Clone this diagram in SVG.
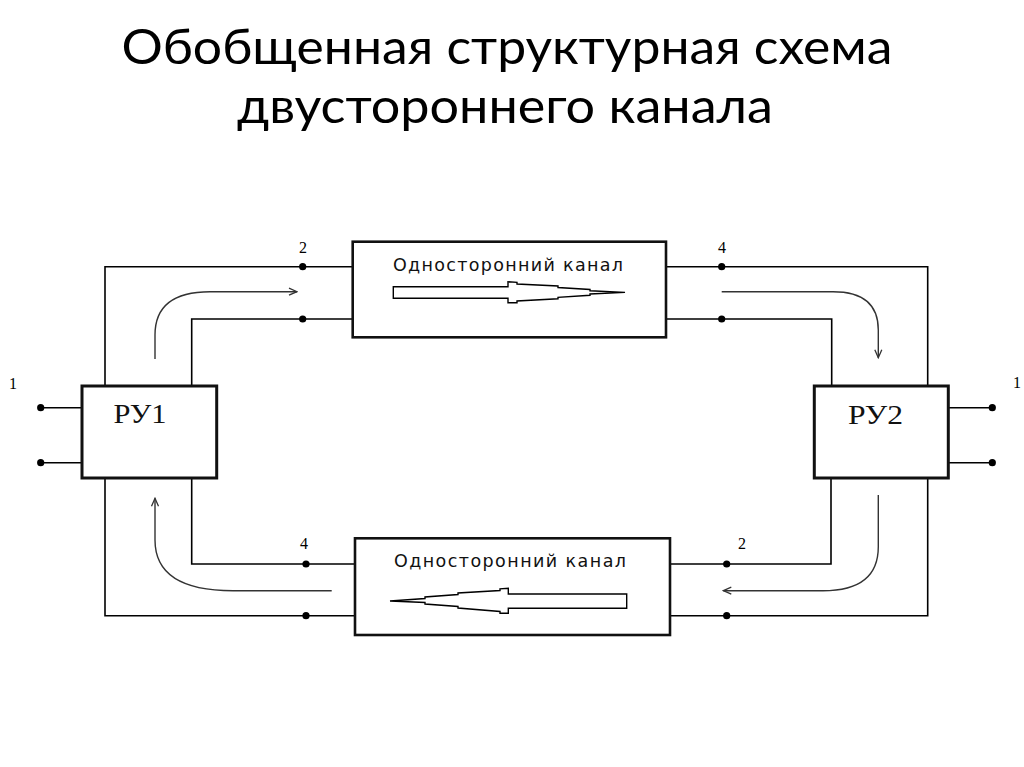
<svg xmlns="http://www.w3.org/2000/svg" width="1024" height="767" viewBox="0 0 1024 767">
<defs>
<style>
.wire{fill:none;stroke:#000;stroke-width:1.6}
.box{fill:#fff;stroke:#111;stroke-width:3}
.ch{fill:#fff;stroke:#111;stroke-width:2.6}
.dot{fill:#000}
.flow{fill:none;stroke:#333;stroke-width:1.4;marker-end:url(#ah)}
.hol{fill:#fff;stroke:#000;stroke-width:1.4}
.num{font-family:"Liberation Serif",serif;font-size:16px;fill:#000;text-anchor:middle}
.ru{font-family:"Liberation Serif",serif;font-size:28px;fill:#111;text-anchor:middle}
.chl{font-family:"DejaVu Sans","Liberation Sans",sans-serif;font-size:17.5px;fill:#111;text-anchor:middle}
.title{font-family:Lato,"Open Sans",sans-serif;font-size:48px;fill:#000;text-anchor:middle}
</style>
<marker id="ah" viewBox="0 0 10 10" refX="9" refY="5" markerWidth="10" markerHeight="10" markerUnits="userSpaceOnUse" orient="auto">
<polyline points="1,1.5 9,5 1,8.5" fill="none" stroke="#333" stroke-width="1.3"/>
</marker>
</defs>
<rect width="1024" height="767" fill="#fff"/>
<g id="title">
<text class="title" x="507" y="64" textLength="771" lengthAdjust="spacingAndGlyphs">Обобщенная структурная схема</text>
<text class="title" x="505" y="122.5" textLength="536" lengthAdjust="spacingAndGlyphs">двустороннего канала</text>
</g>
<g id="connectors">
<polyline class="wire" points="352.7,266.7 105,266.7 105,386"/>
<polyline class="wire" points="352.7,319 191.7,319 191.7,386"/>
<polyline class="wire" points="665,266.7 927.7,266.7 927.7,386"/>
<polyline class="wire" points="665,319 831.7,319 831.7,386"/>
<polyline class="wire" points="105,478 105,615.7 355,615.7"/>
<polyline class="wire" points="191.7,478 191.7,564 355,564"/>
<polyline class="wire" points="927.7,478 927.7,615.7 668,615.7"/>
<polyline class="wire" points="831,478 831,564 668,564"/>
<line class="wire" x1="40.7" y1="407.7" x2="82" y2="407.7"/>
<line class="wire" x1="40.7" y1="462.7" x2="82" y2="462.7"/>
<line class="wire" x1="948" y1="407.7" x2="992.3" y2="407.7"/>
<line class="wire" x1="948" y1="462.7" x2="992.3" y2="462.7"/>
<path class="flow" d="M155,359 L155,335 Q155,291.7 210,291.7 L297,291.7"/>
<path class="flow" d="M721.7,291.7 L833,291.7 Q878.3,291.7 878.3,330 L878.3,357.7"/>
<path class="flow" d="M878.3,495 L878.3,546.7 Q878.3,590.7 823,590.7 L723.3,590.7"/>
<path class="flow" d="M331.7,590.7 L233,590.7 Q155,590.7 155,540 L155,498.3"/>
</g>
<g id="terminals">
<circle class="dot" cx="40.7" cy="407.7" r="3.6"/>
<circle class="dot" cx="40.7" cy="462.7" r="3.6"/>
<circle class="dot" cx="992.3" cy="407.7" r="3.6"/>
<circle class="dot" cx="992.3" cy="462.7" r="3.6"/>
<circle class="dot" cx="302.7" cy="266.7" r="3.6"/>
<circle class="dot" cx="302.7" cy="319" r="3.6"/>
<circle class="dot" cx="721.7" cy="266.7" r="3.6"/>
<circle class="dot" cx="721.7" cy="319" r="3.6"/>
<circle class="dot" cx="306" cy="564" r="3.6"/>
<circle class="dot" cx="306" cy="615.7" r="3.6"/>
<circle class="dot" cx="726.7" cy="564" r="3.6"/>
<circle class="dot" cx="726.7" cy="615.7" r="3.6"/>
<text class="num" x="13" y="389">1</text>
<text class="num" x="1017" y="388">1</text>
<text class="num" x="303" y="253">2</text>
<text class="num" x="722" y="253">4</text>
<text class="num" x="304" y="549">4</text>
<text class="num" x="742" y="549">2</text>
</g>
<g id="ru1">
<rect class="box" x="82" y="386" width="134.7" height="92"/>
<text class="ru" x="140" y="423" textLength="53" lengthAdjust="spacingAndGlyphs">РУ1</text>
</g>
<g id="ru2">
<rect class="box" x="814.3" y="386" width="134" height="92"/>
<text class="ru" x="875.5" y="424" textLength="55" lengthAdjust="spacingAndGlyphs">РУ2</text>
</g>
<g id="channel-top">
<rect class="ch" x="352.7" y="241.7" width="313.3" height="95.6"/>
<text class="chl" x="508" y="270.5" textLength="230" lengthAdjust="spacing">Односторонний канал</text>
<polygon class="hol" points="393.3,286.7 508,286.7 508,281.7 517,282.3 517,284 558,286 558,287.5 590,289.5 590,290.8 625,292.4 590,294 590,295.3 558,297.3 558,298.8 517,301 517,302.7 508,302.7 508,298.3 393.3,298.3"/>
</g>
<g id="channel-bottom">
<rect class="ch" x="355" y="538.3" width="315" height="96.7"/>
<text class="chl" x="510" y="567" textLength="232" lengthAdjust="spacing">Односторонний канал</text>
<polygon class="hol" points="626.7,594 508.3,594 508.3,588.3 500,588.8 500,590.5 458,593 458,594.5 425,597 425,598.5 390,601 425,602.5 425,604 458,606.5 458,608 500,611.5 500,613.3 508.3,613.3 508.3,608.3 626.7,608.3"/>
</g>
</svg>
